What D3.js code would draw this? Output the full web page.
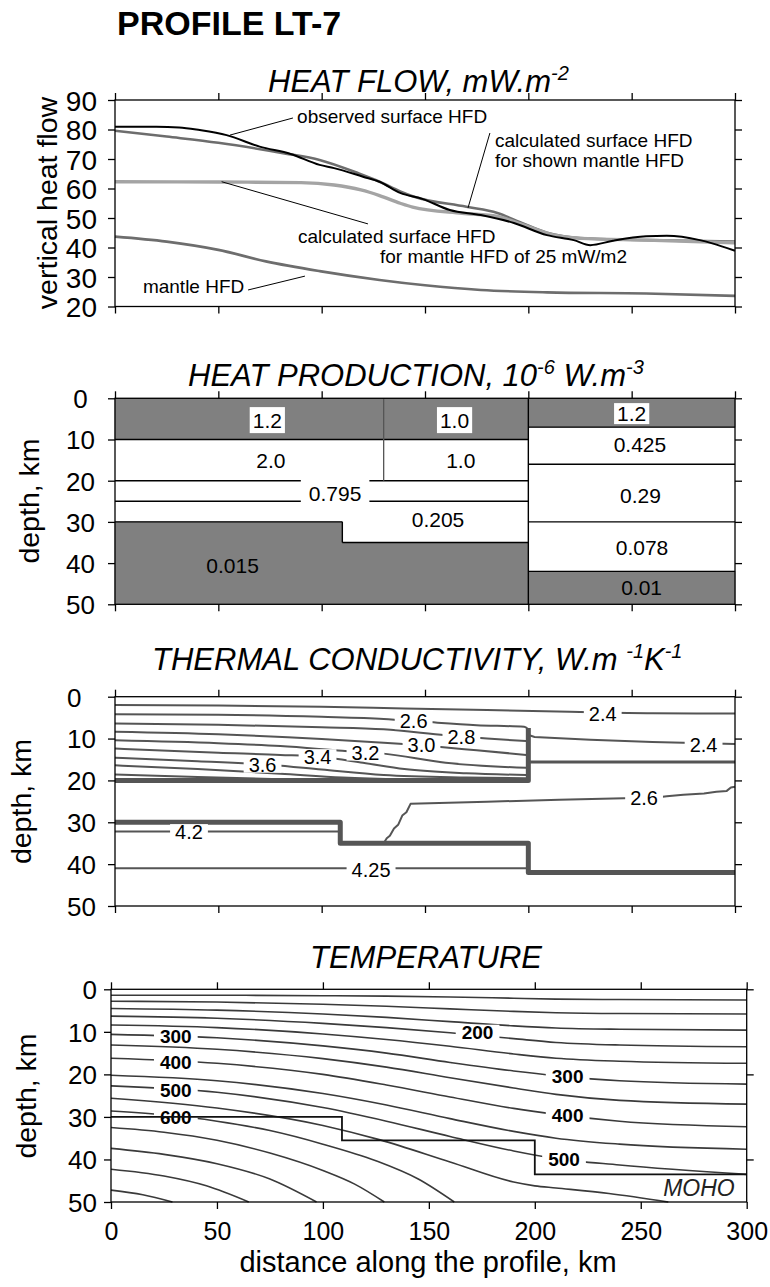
<!DOCTYPE html>
<html><head><meta charset="utf-8">
<script src="https://cdn.jsdelivr.net/npm/d3@7"></script>
<style>body{margin:0;background:#fff} svg{display:block}</style>
</head><body><svg id="c" width="770" height="1287"></svg>
<script>
// ================= DATA =================
const xTicks = [0,50,100,150,200,250,300];
const hfTicks = [20,30,40,50,60,70,80,90];
const depthTicks = [0,10,20,30,40,50];
const tempRightTicks = [0,20,40];

// heat flow curves [km, mW/m2]
const observedHFD = [[0,80.9],[20,80.9],[31,80.7],[41,79.8],[54,78.1],[70,74.2],[85,71.7],[99,68.0],[106,66.9],[120,64.0],[128,62.3],[138,58.5],[149,56.4],[162,52.7],[177,51.0],[193,48.3],[209,44.2],[222,42.5],[230,40.8],[241,42.3],[257,43.8],[267,44.0],[283,42.5],[289,41.4],[300,38.9]];
const calcShownHFD = [[0,79.6],[25,77.6],[50,75.5],[82,71.9],[99,69.7],[118,65.1],[128,62.3],[138,59.0],[144,57.4],[170,53.8],[185,51.7],[196,48.6],[209,45.0],[225,43.2],[257,42.5],[300,42.0]];
const calc25HFD = [[0,62.3],[50,62.2],[90,62.0],[106,61.2],[119,59.5],[128,57.6],[138,55.0],[144,53.7],[168,51.6],[185,50.5],[197,47.8],[212,44.3],[225,43.1],[257,42.5],[300,41.6]];
const mantleHFD = [[0,43.7],[25,42.0],[50,39.2],[73,35.3],[99,32.0],[128,29.0],[150,27.2],[177,25.6],[209,24.8],[257,24.4],[300,23.6]];

// heat production blocks [x0,x1,top,bottom] km
const hpGrayBlocks = [[0,200,0,10],[200,300,0,7],[0,110,30,50],[110,200,35,50],[200,300,42,50]];
const hpHLines = [[0,200,10],[0,200,20],[0,200,25],[0,110,30],[110,200,35],[200,300,7],[200,300,16],[200,300,30],[200,300,42]];
const hpVLines = [[110,30,35],[200,0,50]];
const hpDivider = [[130,0,20]];
const hpLabels = [["1.2",73.7,5.4,1],["1.0",164.3,5.4,1],["1.2",250,3.7,1],["2.0",75.4,15.1,0],["1.0",167.3,15.1,0],["0.795",106.5,23.0,1],["0.205",156.3,29.4,0],["0.015",56.9,40.5,0],["0.425",254,11.3,0],["0.29",254.3,23.5,0],["0.078",255,36.3,0],["0.01",254.8,46,0]];

// thermal conductivity contours [km, depth km]
const k24a = [[0,2.0],[50,2.1],[100,2.4],[140,2.8],[180,3.2],[220,3.6],[260,3.95],[300,4.0]];
const k24b = [[200.5,9.2],[203,9.6],[230,10.3],[260,10.8],[300,11.3]];
const k26a = [[0,4.2],[50,4.3],[100,4.8],[130,5.3],[150,6.0],[175,6.8],[198,7.2],[200,7.8]];
const k28 = [[0,6.4],[50,6.7],[100,7.3],[130,7.8],[160,9.2],[180,10.0],[199,10.6]];
const k30 = [[0,8.4],[50,9.0],[100,10.1],[130,11.0],[155,11.9],[175,12.8],[199,13.9]];
const k32 = [[0,10.4],[50,11.1],[80,11.8],[110,12.9],[130,13.6],[160,15.8],[199,17.0]];
const k34 = [[0,12.4],[50,13.4],[80,13.9],[100,14.4],[120,15.8],[140,17.3],[170,18.3],[199,18.7]];
const k36 = [[0,14.6],[40,15.4],[76,16.3],[100,17.4],[130,18.7],[170,19.3],[199,19.5]];
const k38 = [[0,16.4],[40,17.3],[80,18.4],[110,19.3],[140,19.8],[160,20]];
const k40 = [[0,18.6],[40,19.2],[80,19.7],[110,20]];
const k26b = [[130,35],[131.5,33.8],[133,33.2],[135,31.5],[137,30.6],[139,28.4],[141,27.6],[143,25.6],[180,25.1],[215,24.6],[262,24.1],[267,23.8],[275,23.4],[285,23.1],[291,22.7],[296,22.5],[298,21.7],[300,21.5]];
const k42 = [[0,32.2],[108,32.2]];
const k425 = [[0,41],[200,41]];
const kMid16 = [[200,15.6],[300,15.6]];
const kThickA = [[0,20],[200,20],[200,7.5]];
const kThickB = [[0,30],[109,30],[109,35],[200,35],[200,42],[300,42]];
const kLabels = [["2.4",236,4.2],["2.4",284.8,11.5],["2.6",144.5,5.8],["2.8",167.6,9.6],["3.0",148.3,11.6],["3.2",121.2,13.3],["3.4",98,14.4],["3.6",71.4,16.2],["4.2",35.8,32.3],["4.25",123.9,41.3],["2.6",256,24.2]];

// temperature contours, degC -> [km, depth km]
const tX = [0,50,100,130,160,190,210,240,300];
const t50d  = [1.4,1.4,1.5,1.6,1.8,2.1,2.3,2.4,2.5];
const t100d = [2.8,3.0,3.5,4.0,4.6,5.2,5.5,5.7,5.8];
const t150d = [4.5,4.9,5.8,6.6,7.6,8.6,9.1,9.4,9.6];
const t200d = [6.3,6.8,8.0,9.0,10.2,11.6,12.5,13.1,13.5];
const t250d = [8.4,9.0,10.5,11.8,13.4,15.2,16.2,16.9,17.4];
const t300d = [10.6,11.4,13.3,15.0,17.2,19.2,20.3,21.5,22.3];
const t350d = [13.1,14.1,16.3,18.3,20.8,23.2,24.7,26.1,27.0];
const t400d = [16.2,17.4,20.0,22.5,25.3,28.0,29.4,31.0,32.3];
const t450d = [20.2,21.5,24.5,27.2,30.4,33.4,35.0,36.4,37.6];
const t500d = [22.7,24.2,27.8,31.0,34.6,38.0,39.8,41.3,43.5];
const t550 = [[0,25.6],[50,27.9],[100,32.0],[127,35.4],[160,40.6],[190,45.3],[200,46.2],[210,46.7],[235,48.0],[263,50]];
const t600 = [[0,28.6],[25,29.5],[50,31.0],[75,33.2],[100,36.4],[125,40.3],[145,44.6],[162,50]];
const t650 = [[0,32.5],[25,33.6],[50,35.5],[75,38.5],[100,42.6],[115,45.8],[129,50]];
const t700 = [[0,37.4],[25,38.8],[50,41.0],[75,44.6],[97,50]];
const t750 = [[0,42.3],[25,43.9],[45,46.2],[65,50]];
const t800 = [[0,47.2],[15,48.3],[29,50]];
const tLabels = [["300",30.6,11.1],["400",30.6,17.1],["500",30.6,23.7],["600",30.6,30.0],["200",173,10.0],["300",215.5,20.5],["400",215.5,29.6],["500",213.8,39.9]];
const moho = [[0,30],[109,30],[109,35.5],[200,35.5],[200,43.5],[300,43.5]];

// ================= DRAWING =================
const FONT = '"Liberation Sans", Arial, Helvetica, sans-serif';
const svg = d3.select('#c');
svg.append('rect').attr('width',770).attr('height',1287).attr('fill','#fff');

const P1 = {x0:115,x1:735,y0:100,y1:306.5};
const P2 = {x0:115,x1:735,y0:398.3,y1:604.3};
const P3 = {x0:115,x1:735,y0:696.7,y1:906};
const P4 = {x0:111,x1:746.7,y0:989.3,y1:1202};

const xs = P => d3.scaleLinear().domain([0,300]).range([P.x0,P.x1]);
const x1 = xs(P1), x2 = xs(P2), x3 = xs(P3), x4 = xs(P4);
const y1 = d3.scaleLinear().domain([20,90]).range([P1.y1,P1.y0]);
const y2 = d3.scaleLinear().domain([0,50]).range([P2.y0,P2.y1]);
const y3 = d3.scaleLinear().domain([0,50]).range([P3.y0,P3.y1]);
const y4 = d3.scaleLinear().domain([0,50]).range([P4.y0,P4.y1]);

function txt(g, x, y, s, fs, o={}) {
  return g.append('text').attr('x',x).attr('y',y).text(s)
    .attr('font-family',FONT).attr('font-size',fs)
    .attr('font-style',o.italic?'italic':'normal').attr('font-weight',o.bold?'bold':'normal')
    .attr('text-anchor',o.anchor||'start').attr('fill','#000');
}

function title(x, y, parts) {
  const t = svg.append('text').attr('x',x).attr('y',y).attr('font-family',FONT)
    .attr('font-size',31).attr('font-style','italic').attr('fill','#000');
  let shifted = false;
  parts.forEach(p => {
    const ts = t.append('tspan').text(p[0]);
    if (p[1]) { ts.attr('font-size',20).attr('dy', shifted? 0 : -12); shifted = true; }
    else if (shifted) { ts.attr('dy',12); shifted = false; }
  });
  return t;
}

function axes(P, xsc, ysc, yTicks, rTicks, cfg) {
  const g = svg.append('g');
  const style = a => {
    a.attr('font-family',FONT).attr('font-size',cfg.yfs);
    a.select('.domain').remove();
    a.selectAll('.tick line').attr('stroke','#000').attr('stroke-width',1.3);
    a.selectAll('.tick text').attr('fill','#000');
  };
  const L = g.append('g').attr('transform',`translate(${P.x0},0)`)
    .call(d3.axisLeft(ysc).tickValues(yTicks).tickSize(7).tickSizeOuter(0).tickFormat(d3.format('d')));
  style(L);
  L.selectAll('.tick text').attr('text-anchor',cfg.anchor).attr('x',cfg.labelX - P.x0).attr('dy','0.36em');
  const R = g.append('g').attr('transform',`translate(${P.x1},0)`)
    .call(d3.axisRight(ysc).tickValues(rTicks).tickSize(7).tickSizeOuter(0).tickFormat(''));
  style(R);
  const T = g.append('g').attr('transform',`translate(0,${P.y0})`)
    .call(d3.axisTop(xsc).tickValues(xTicks).tickSize(7).tickSizeOuter(0).tickFormat(''));
  style(T);
  const B = g.append('g').attr('transform',`translate(0,${P.y1})`)
    .call(d3.axisBottom(xsc).tickValues(xTicks).tickSize(7).tickSizeOuter(0).tickFormat(cfg.xLabels? d3.format('d') : ''));
  style(B);
  if (cfg.xLabels) B.attr('font-size',25).selectAll('.tick text').attr('y',38).attr('dy','0');
  g.append('rect').attr('x',P.x0).attr('y',P.y0).attr('width',P.x1-P.x0).attr('height',P.y1-P.y0)
    .attr('fill','none').attr('stroke','#000').attr('stroke-width',1.3);
}

function boxed(g, x, y, s, fs, o) {
  const t = txt(g, x, y, s, fs, {anchor:'middle', bold:o.bold}).attr('dy','0.36em');
  const bb = t.node().getBBox();
  g.insert('rect', () => t.node()).attr('x',bb.x-o.px).attr('y',bb.y+o.top).attr('width',bb.width+2*o.px)
    .attr('height',bb.height-o.top-o.bot).attr('fill','#fff');
  return t;
}

// Heading
txt(svg, 117, 35, 'PROFILE LT-7', 34, {bold:true});

// ---------- Panel 1: heat flow ----------
title(268, 92, [['HEAT FLOW, mW.m'],['-2',1]]);
const line1 = d3.line().x(d=>x1(d[0])).y(d=>y1(d[1])).curve(d3.curveMonotoneX);
const g1 = svg.append('g');
g1.append('path').datum(mantleHFD).attr('d',line1).attr('fill','none').attr('stroke','#6d6d6d').attr('stroke-width',2.6);
g1.append('path').datum(calcShownHFD).attr('d',line1).attr('fill','none').attr('stroke','#6d6d6d').attr('stroke-width',2.6);
g1.append('path').datum(calc25HFD).attr('d',line1).attr('fill','none').attr('stroke','#a4a4a4').attr('stroke-width',3.4);
g1.append('path').datum(observedHFD).attr('d',line1).attr('fill','none').attr('stroke','#000').attr('stroke-width',2);
const leaders = [[[55.6,78.1],[86.1,83.9]],[[181.4,78.8],[170.8,53.4]],[[51.6,62.3],[122.4,48.0]],[[64.4,25.6],[91.9,30.3]]];
leaders.forEach(l => g1.append('line').attr('x1',x1(l[0][0])).attr('y1',y1(l[0][1])).attr('x2',x1(l[1][0])).attr('y2',y1(l[1][1])).attr('stroke','#000').attr('stroke-width',1));
const hfNotes = [['observed surface HFD',88.1,82.2],['calculated surface HFD',183.9,74.1],['for shown mantle HFD',183.9,67.3],['calculated surface HFD',88.5,41.6],['for mantle HFD of 25 mW/m2',128.2,34.8],['mantle HFD',13.5,24.6]];
hfNotes.forEach(n => txt(g1, x1(n[1]), y1(n[2]), n[0], 19));
axes(P1, x1, y1, hfTicks, hfTicks, {yfs:28, anchor:'end', labelX:97});
txt(svg, 0, 0, 'vertical heat flow', 28.5, {anchor:'middle'}).attr('transform','translate(57,203) rotate(-90)');

// ---------- Panel 2: heat production ----------
title(188, 386, [['HEAT PRODUCTION, 10'],['-6',1],[' W.m'],['-3',1]]);
const g2 = svg.append('g');
g2.selectAll('rect.blk').data(hpGrayBlocks).join('rect').attr('class','blk')
  .attr('x',d=>x2(d[0])-0.4).attr('y',d=>y2(d[2])-0.4).attr('width',d=>x2(d[1])-x2(d[0])+0.8).attr('height',d=>y2(d[3])-y2(d[2])+0.8)
  .attr('fill','#808080');
g2.selectAll('line.h').data(hpHLines).join('line').attr('class','h')
  .attr('x1',d=>x2(d[0])).attr('x2',d=>x2(d[1])).attr('y1',d=>y2(d[2])).attr('y2',d=>y2(d[2])).attr('stroke','#000').attr('stroke-width',1.4);
g2.selectAll('line.v').data(hpVLines).join('line').attr('class','v')
  .attr('x1',d=>x2(d[0])).attr('x2',d=>x2(d[0])).attr('y1',d=>y2(d[1])).attr('y2',d=>y2(d[2])).attr('stroke','#000').attr('stroke-width',1.4);
g2.selectAll('line.dv').data(hpDivider).join('line').attr('class','dv')
  .attr('x1',d=>x2(d[0])).attr('x2',d=>x2(d[0])).attr('y1',d=>y2(d[1])).attr('y2',d=>y2(d[2])).attr('stroke','#555').attr('stroke-width',1.3);
hpLabels.forEach(l => {
  if (l[3]) {
    const narrow = l[2] < 5;
    boxed(g2, x2(l[1]), y2(l[2]), l[0], 21, {px: l[0].length>3?8:3, top: narrow?1:-2, bot: narrow?1:-1});
  } else {
    txt(g2, x2(l[1]), y2(l[2]), l[0], 21, {anchor:'middle'}).attr('dy','0.36em');
  }
});
axes(P2, x2, y2, depthTicks, depthTicks, {yfs:26, anchor:'middle', labelX:80.5});
txt(svg, 0, 0, 'depth, km', 28.5, {anchor:'middle'}).attr('transform','translate(39,501) rotate(-90)');

// ---------- Panel 3: thermal conductivity ----------
title(152, 670, [['THERMAL CONDUCTIVITY, W.m '],['-1',1],['K'],['-1',1]]);
const g3 = svg.append('g');
const line3 = d3.line().x(d=>x3(d[0])).y(d=>y3(d[1])).curve(d3.curveMonotoneX);
const line3l = d3.line().x(d=>x3(d[0])).y(d=>y3(d[1]));
[k24a,k26a,k28,k30,k32,k34,k36,k38,k40,k42,k425].forEach(c =>
  g3.append('path').datum(c).attr('d',line3).attr('fill','none').attr('stroke','#555').attr('stroke-width',2));
g3.append('path').datum(k24b).attr('d',line3l).attr('fill','none').attr('stroke','#555').attr('stroke-width',2);
g3.append('path').datum(k26b).attr('d',line3l).attr('fill','none').attr('stroke','#555').attr('stroke-width',2).attr('stroke-linejoin','round');
g3.append('path').datum(kMid16).attr('d',line3l).attr('fill','none').attr('stroke','#555').attr('stroke-width',2.8);
[kThickA,kThickB].forEach(c =>
  g3.append('path').datum(c).attr('d',line3l).attr('fill','none').attr('stroke','#555').attr('stroke-width',5).attr('stroke-linejoin','round'));
kLabels.forEach(l => boxed(g3, x3(l[1]), y3(l[2]), l[0], 20, {px:5, top:3, bot:3}));
axes(P3, x3, y3, depthTicks, depthTicks, {yfs:26, anchor:'start', labelX:67});
txt(svg, 0, 0, 'depth, km', 28.5, {anchor:'middle'}).attr('transform','translate(31,801.5) rotate(-90)');

// ---------- Panel 4: temperature ----------
title(310, 968, [['TEMPERATURE']]);
const g4 = svg.append('g');
const line4 = d3.line().x(d=>x4(d[0])).y(d=>y4(d[1])).curve(d3.curveMonotoneX);
const upper = [t50d,t100d,t150d,t200d,t250d,t300d,t350d,t400d,t450d,t500d].map(arr => tX.map((x,i)=>[x,arr[i]]));
upper.concat([t550,t600,t650,t700,t750,t800]).forEach(c =>
  g4.append('path').datum(c).attr('d',line4).attr('fill','none').attr('stroke','#3a3a3a').attr('stroke-width',1.6));
tLabels.forEach(l => boxed(g4, x4(l[1]), y4(l[2]), l[0], 19, {px:6, top:3, bot:3, bold:true}));
g4.append('path').datum(moho).attr('d',d3.line().x(d=>x4(d[0])).y(d=>y4(d[1]))).attr('fill','none').attr('stroke','#111').attr('stroke-width',1.8);
txt(g4, x4(300)-12, 1196, 'MOHO', 23, {italic:true, anchor:'end'}).attr('fill','#222');
axes(P4, x4, y4, depthTicks, tempRightTicks, {yfs:26, anchor:'end', labelX:97, xLabels:true});
txt(svg, 0, 0, 'depth, km', 28.5, {anchor:'middle'}).attr('transform','translate(36,1096) rotate(-90)');
txt(svg, 428, 1272, 'distance along the profile, km', 29, {anchor:'middle'});
</script></body></html>
